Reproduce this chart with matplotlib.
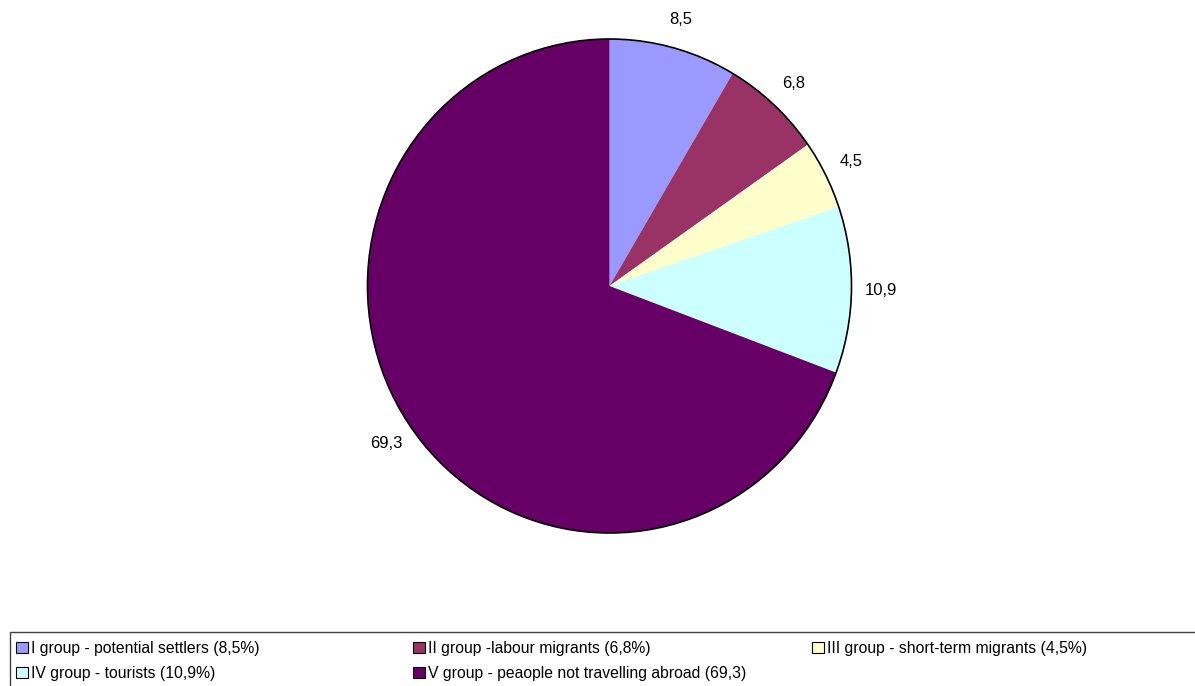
import matplotlib
matplotlib.use("Agg")
import matplotlib.pyplot as plt
from matplotlib.patches import Rectangle, Circle, Patch

plt.rcParams['font.family'] = ['Liberation Sans', 'DejaVu Sans']

values = [8.5, 6.8, 4.5, 10.9, 69.3]
value_labels = ["8,5", "6,8", "4,5", "10,9", "69,3"]
legend_labels = [
    "I group - potential settlers (8,5%)",
    "II group -labour migrants (6,8%)",
    "III group - short-term migrants (4,5%)",
    "IV group - tourists (10,9%)",
    "V group - peaople not travelling abroad (69,3)",
]
colors = ["#9999FF", "#993366", "#FFFFCC", "#CCFFFF", "#660066"]

W, H = 1195, 686
fig = plt.figure(figsize=(W / 100, H / 100), dpi=100)

cx, cy, rx, ry = 609.5, 286, 242, 247
ax = fig.add_axes([(cx - rx) / W, (H - cy - ry) / H, 2 * rx / W, 2 * ry / H])
wedges, texts = ax.pie(values, labels=value_labels, colors=colors, startangle=90,
                       counterclock=False, labeldistance=1.12,
                       wedgeprops=dict(linewidth=0),
                       textprops=dict(fontsize=12, color="black"))
for t in texts:
    t.set_horizontalalignment("center")
    t.set_verticalalignment("center")
ax.add_patch(Circle((0, 0), 1, fill=False, edgecolor="black", linewidth=1.2, clip_on=False))
ax.set_xlim(-1, 1)
ax.set_ylim(-1, 1)
ax.set_aspect("auto")
ax.axis("off")

# legend box
fig.patches.append(Rectangle((10 / W, -0.1), 1.2, 0.1 + (H - 632) / H, transform=fig.transFigure,
                             fill=False, edgecolor="#404040", linewidth=1))

cols = [[0, 3], [1, 4], [2]]
col_x = [16, 413, 812]
for idx, x0 in zip(cols, col_x):
    handles = [Patch(facecolor=colors[i], edgecolor="black", linewidth=0.8) for i in idx]
    fig.legend(handles, [legend_labels[i] for i in idx], loc="upper left",
               bbox_to_anchor=(x0 / W, (H - 641) / H), frameon=False,
               fontsize=11.3, handlelength=0.75, handleheight=0.75,
               handletextpad=0.2, labelspacing=0.65, borderpad=0, borderaxespad=0)

fig.savefig("out.png", dpi=100)
